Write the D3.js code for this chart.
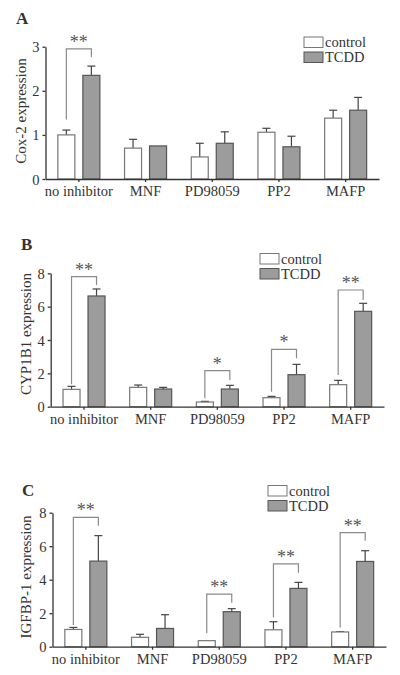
<!DOCTYPE html>
<html>
<head>
<meta charset="utf-8">
<script src="https://cdn.jsdelivr.net/npm/d3@7/dist/d3.min.js"></script>
<style>
  html, body { margin: 0; padding: 0; background: #fff; }
  svg { display: block; }
  text { font-family: "Liberation Serif", "Times New Roman", serif; fill: #333; }
</style>
</head>
<body>
<svg id="chart" width="400" height="675"></svg>
<script>
// ---------- data ----------
const categories = ["no inhibitor", "MNF", "PD98059", "PP2", "MAFP"];
const seriesNames = ["control", "TCDD"];

const coxTicks = [0, 1, 2, 3];
const coxControl    = [1.00, 0.70, 0.50, 1.06, 1.38];
const coxControlErr = [0.11, 0.20, 0.31, 0.09, 0.18];
const coxTCDD       = [2.35, 0.75, 0.81, 0.73, 1.56];
const coxTCDDErr    = [0.21, 0.00, 0.26, 0.24, 0.29];
const coxSig = [
  { cat: "no inhibitor", label: "**", left: 1.35, top: 2.95, right: 2.76 }
];

const cypTicks = [0, 2, 4, 6, 8];
const cypControl    = [1.04, 1.16, 0.28, 0.54, 1.32];
const cypControlErr = [0.18, 0.14, 0.04, 0.08, 0.26];
const cypTCDD       = [6.64, 1.06, 1.06, 1.92, 5.72];
const cypTCDDErr    = [0.42, 0.10, 0.22, 0.62, 0.48];
const cypSig = [
  { cat: "no inhibitor", label: "**", left: 1.34, top: 7.80, right: 7.30 },
  { cat: "PD98059",      label: "*",  left: 0.50, top: 2.16, right: 1.60 },
  { cat: "PP2",          label: "*",  left: 0.90, top: 3.44, right: 2.90 },
  { cat: "MAFP",         label: "**", left: 1.90, top: 7.00, right: 6.40 }
];

const igfTicks = [0, 2, 4, 6, 8];
const igfControl    = [1.03, 0.56, 0.36, 1.01, 0.88];
const igfControlErr = [0.12, 0.18, 0.00, 0.48, 0.02];
const igfTCDD       = [5.11, 1.09, 2.09, 3.48, 5.09];
const igfTCDDErr    = [1.52, 0.82, 0.18, 0.36, 0.64];
const igfSig = [
  { cat: "no inhibitor", label: "**", left: 1.29, top: 7.72, right: 7.22 },
  { cat: "PD98059",      label: "**", left: 0.80, top: 3.14, right: 2.63 },
  { cat: "PP2",          label: "**", left: 1.75, top: 4.94, right: 4.42 },
  { cat: "MAFP",         label: "**", left: 1.15, top: 6.81, right: 6.33 }
];

// ---------- drawing ----------
const svg = d3.select("#chart");
const fills = { control: "#ffffff", TCDD: "#9c9c9c" };
const strokes = { control: "#777777", TCDD: "#555555" };

function drawPanel(cfg) {
  const g = svg.append("g");
  const x0 = d3.scaleBand().domain(categories).range([cfg.left, cfg.right]);
  const x1 = d3.scaleBand().domain(seriesNames).range([-21, 21]).paddingInner(0.32);
  const y = d3.scaleLinear().domain([0, cfg.ticks[cfg.ticks.length - 1]]).range([cfg.y0, cfg.yTop]);

  const rows = [];
  categories.forEach((c, i) => {
    rows.push({ cat: c, s: "control", v: cfg.control[i], e: cfg.controlErr[i] });
    rows.push({ cat: c, s: "TCDD", v: cfg.tcdd[i], e: cfg.tcddErr[i] });
  });
  const cx = d => x0(d.cat) + x0.bandwidth() / 2;

  // error bars (upper only)
  rows.filter(d => d.e > 0).forEach(d => {
    const xc = cx(d) + x1(d.s) + x1.bandwidth() / 2;
    g.append("line").attr("x1", xc).attr("x2", xc)
      .attr("y1", y(d.v)).attr("y2", y(d.v + d.e))
      .attr("stroke", "#444").attr("stroke-width", 1.2);
    g.append("line").attr("x1", xc - 4).attr("x2", xc + 4)
      .attr("y1", y(d.v + d.e)).attr("y2", y(d.v + d.e))
      .attr("stroke", "#444").attr("stroke-width", 1.2);
  });

  // bars
  g.selectAll("rect.bar").data(rows).join("rect")
    .attr("class", "bar")
    .attr("x", d => cx(d) + x1(d.s))
    .attr("width", x1.bandwidth())
    .attr("y", d => y(d.v))
    .attr("height", d => cfg.y0 - y(d.v))
    .attr("fill", d => fills[d.s])
    .attr("stroke", d => strokes[d.s])
    .attr("stroke-width", 1.2);

  // axes
  const ya = g.append("g").attr("transform", `translate(${cfg.left},0)`)
    .call(d3.axisLeft(y).tickValues(cfg.ticks).tickFormat(d3.format("d")).tickSize(3).tickPadding(3).tickSizeOuter(0));
  const xa = g.append("g").attr("transform", `translate(0,${cfg.y0})`)
    .call(d3.axisBottom(x0).tickSize(3).tickPadding(4).tickSizeOuter(0));
  [ya, xa].forEach(a => {
    a.selectAll("path,line").attr("stroke", "#333").attr("stroke-width", 1.3);
    a.selectAll("text").style("font-size", "14.5px").style("font-family", '"Liberation Serif", "Times New Roman", serif').attr("fill", "#333");
  });
  ya.selectAll("text").attr("dy", "0.35em");

  // y title
  g.append("text")
    .attr("transform", `translate(${cfg.titleX},${cfg.titleY}) rotate(-90)`)
    .attr("text-anchor", "middle")
    .style("font-size", "15px")
    .text(cfg.title);

  // panel letter
  g.append("text").attr("x", cfg.letterX).attr("y", cfg.letterY)
    .style("font-size", "17px").style("font-weight", "bold")
    .attr("fill", "#222").text(cfg.letter);

  // significance brackets
  cfg.sig.forEach(s => {
    const c = x0(s.cat) + x0.bandwidth() / 2;
    const xl = c + x1("control") + x1.bandwidth() / 2;
    const xr = c + x1("TCDD") + x1.bandwidth() / 2;
    g.append("path")
      .attr("d", `M${xl},${y(s.left)}V${y(s.top)}H${xr}V${y(s.right)}`)
      .attr("fill", "none").attr("stroke", "#8a8a8a").attr("stroke-width", 1.2);
    g.append("text").attr("x", (xl + xr) / 2).attr("y", y(s.top) - 1)
      .attr("text-anchor", "middle").style("font-size", "18px")
      .style("fill", "#555555").text(s.label);
  });

  // legend
  seriesNames.forEach((s, i) => {
    g.append("rect").attr("x", cfg.legX).attr("y", cfg.legY + i * 15)
      .attr("width", 19).attr("height", 10.5)
      .attr("fill", fills[s]).attr("stroke", strokes[s]).attr("stroke-width", 1);
    g.append("text").attr("x", cfg.legX + 21).attr("y", cfg.legY + i * 15 + 10)
      .style("font-size", "14.5px").text(s);
  });
}

drawPanel({
  letter: "A", letterX: 16, letterY: 24,
  title: "Cox-2 expression", titleX: 26, titleY: 111,
  left: 45.5, right: 379, y0: 179, yTop: 46.7, ticks: coxTicks,
  control: coxControl, controlErr: coxControlErr, tcdd: coxTCDD, tcddErr: coxTCDDErr,
  sig: coxSig, legX: 304, legY: 37
});
drawPanel({
  letter: "B", letterX: 21, letterY: 250,
  title: "CYP1B1 expression", titleX: 31, titleY: 334,
  left: 50.7, right: 384, y0: 406.7, yTop: 273.3, ticks: cypTicks,
  control: cypControl, controlErr: cypControlErr, tcdd: cypTCDD, tcddErr: cypTCDDErr,
  sig: cypSig, legX: 260, legY: 253.5
});
drawPanel({
  letter: "C", letterX: 22, letterY: 496,
  title: "IGFBP-1 expression", titleX: 31, titleY: 577,
  left: 52.5, right: 386, y0: 646.7, yTop: 512.7, ticks: igfTicks,
  control: igfControl, controlErr: igfControlErr, tcdd: igfTCDD, tcddErr: igfTCDDErr,
  sig: igfSig, legX: 268, legY: 485.5
});
</script>
</body>
</html>
